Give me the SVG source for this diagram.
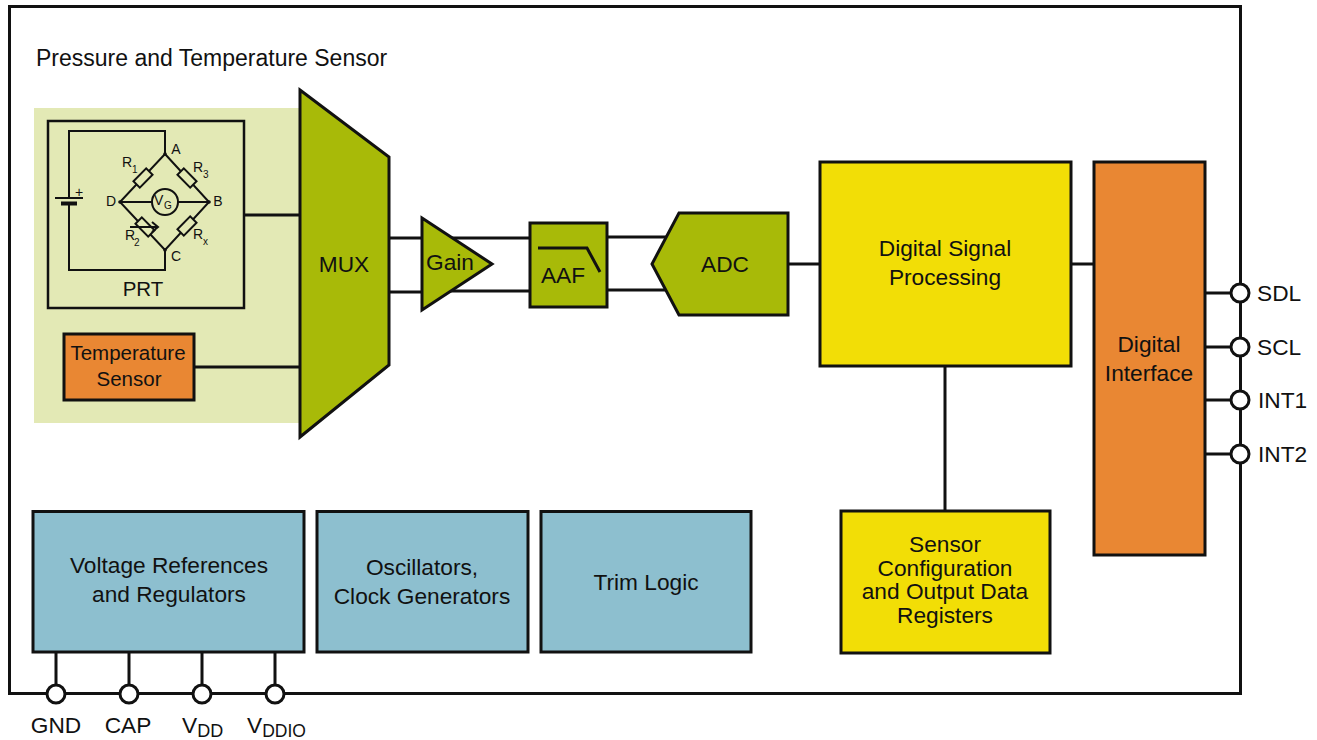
<svg xmlns="http://www.w3.org/2000/svg" width="1317" height="740" viewBox="0 0 1317 740">
<style>
text{font-family:"Liberation Sans",Arial,sans-serif;font-size:22.7px;fill:#111;text-anchor:middle}
.s{text-anchor:start}
.small{font-size:14px}
.sub{font-size:10px}
.b{stroke:#111;stroke-width:3;stroke-linejoin:miter}
.ln{fill:none;stroke:#111;stroke-width:3}
.th{fill:none;stroke:#111;stroke-width:2}
.g{fill:#a8ba08}
.y{fill:#f2de06}
.o{fill:#e98733}
.t{fill:#8dbfcf}
.pin{fill:#fff;stroke:#111;stroke-width:3}
.res{fill:#e3e9b5;stroke:#111;stroke-width:2}
</style>
<rect id="chip" x="9.5" y="6.5" width="1231" height="687" fill="#fff" stroke="#111" stroke-width="3"/>
<text id="title" class="s" x="36" y="66" style="font-size:23px">Pressure and Temperature Sensor</text>
<rect id="sensor-bg" x="34" y="108" width="270" height="315" fill="#e3e9b5"/>
<g id="connectors">
<path class="ln" d="M244 215H300M194 367H300M389 238H440M389 292H440M440 238H530M440 291H530M608 237H668M608 290H668M788 264H820M945 366V511M1071 264H1094M1205 293H1240M1205 347H1240M1205 400H1240M1205 454H1240M56 652V693M129 652V693M202 652V693M275 652V693"/>
</g>
<g id="prt">
<rect x="48" y="121" width="196" height="187" fill="none" stroke="#111" stroke-width="2.5"/>
<path class="th" d="M165 154V131H69V198M69 203V270H165V250M55 198H83M165 154L209 202L165 250L120 202ZM120 202H152M178 202H209"/>
<path d="M61 203.5H77" stroke="#111" stroke-width="4" fill="none"/>
<circle cx="165" cy="202" r="13" fill="#e3e9b5" stroke="#111" stroke-width="2"/>
<circle cx="165" cy="154" r="1.8" fill="#111"/><circle cx="165" cy="250" r="1.8" fill="#111"/><circle cx="120" cy="202" r="1.8" fill="#111"/><circle cx="209" cy="202" r="1.8" fill="#111"/>
<rect class="res" x="-9" y="-4.5" width="18" height="9" transform="translate(143 178) rotate(-45)"/>
<rect class="res" x="-9" y="-4.5" width="18" height="9" transform="translate(187 178) rotate(45)"/>
<rect class="res" x="-9" y="-4.5" width="18" height="9" transform="translate(145 227) rotate(45)"/>
<rect class="res" x="-9" y="-4.5" width="18" height="9" transform="translate(187 226) rotate(-45)"/>
<path class="th" d="M130 227H158M152 222L158 227L152 232"/>
<text class="small" x="176" y="154">A</text><text class="small" x="218" y="206">B</text><text class="small" x="176" y="261">C</text><text class="small" x="111" y="206">D</text>
<text class="small s" x="122" y="167">R</text><text class="sub s" x="132" y="173">1</text>
<text class="small s" x="193" y="172">R</text><text class="sub s" x="203" y="178">3</text>
<text class="small s" x="125" y="240">R</text><text class="sub s" x="134" y="246">2</text>
<text class="small s" x="193" y="239">R</text><text class="sub s" x="203" y="245">x</text>
<text class="small s" x="154" y="205">V</text><text class="sub s" x="164" y="209">G</text>
<text x="143" y="296" style="font-size:20.5px">PRT</text>
<text class="small s" x="75" y="197">+</text>
</g>
<g id="temp"><rect class="o b" x="64" y="334" width="130" height="66"/><text x="128" y="360" style="font-size:20.5px">Temperature</text><text x="129" y="386" style="font-size:20.5px">Sensor</text></g>
<g id="mux"><path class="g b" d="M300 90L389 157V365L300 437Z"/><text x="344" y="272">MUX</text></g>
<g id="gain"><path class="g b" d="M422 218L492 264L422 310Z"/><text x="450" y="270">Gain</text></g>
<g id="aaf"><rect class="g b" x="530" y="223" width="77" height="84"/><path class="ln" d="M538 248H587L600 272"/><text x="563" y="283">AAF</text></g>
<g id="adc"><path class="g b" d="M679 213H788V315H679L652 264Z"/><text x="725" y="272">ADC</text></g>
<g id="dsp"><rect class="y b" x="820" y="162" width="251" height="204"/><text x="945" y="256">Digital Signal</text><text x="945" y="285">Processing</text></g>
<g id="digital-interface"><rect class="o b" x="1094" y="162" width="111" height="393"/><text x="1149" y="352">Digital</text><text x="1149" y="381">Interface</text></g>
<g id="registers"><rect class="y b" x="841" y="511" width="209" height="142"/><text x="945" y="552">Sensor</text><text x="945" y="576">Configuration</text><text x="945" y="599">and Output Data</text><text x="945" y="623">Registers</text></g>
<g id="voltage"><rect class="t b" x="33" y="511.5" width="271" height="140.5"/><text x="169" y="573">Voltage References</text><text x="169" y="602">and Regulators</text></g>
<g id="osc"><rect class="t b" x="317" y="511.5" width="211" height="140.5"/><text x="422" y="575">Oscillators,</text><text x="422" y="604">Clock Generators</text></g>
<g id="trim"><rect class="t b" x="541" y="511.5" width="210" height="140.5"/><text x="646" y="590">Trim Logic</text></g>
<g id="pin-sdl"><circle class="pin" cx="1240" cy="293" r="9"/><text class="s" x="1257" y="301">SDL</text></g>
<g id="pin-scl"><circle class="pin" cx="1240" cy="347" r="9"/><text class="s" x="1257" y="355">SCL</text></g>
<g id="pin-int1"><circle class="pin" cx="1240" cy="400" r="9"/><text class="s" x="1258" y="408">INT1</text></g>
<g id="pin-int2"><circle class="pin" cx="1240" cy="454" r="9"/><text class="s" x="1258" y="462">INT2</text></g>
<g id="pin-gnd"><circle class="pin" cx="56" cy="694" r="9"/><text x="56" y="733">GND</text></g>
<g id="pin-cap"><circle class="pin" cx="129" cy="694" r="9"/><text x="128" y="733">CAP</text></g>
<g id="pin-vdd"><circle class="pin" cx="202" cy="694" r="9"/><text class="s" x="182" y="733">V<tspan dy="4" style="font-size:18px">DD</tspan></text></g>
<g id="pin-vddio"><circle class="pin" cx="275" cy="694" r="9"/><text class="s" x="247" y="733">V<tspan dy="4" style="font-size:17.5px">DDIO</tspan></text></g>
</svg>
